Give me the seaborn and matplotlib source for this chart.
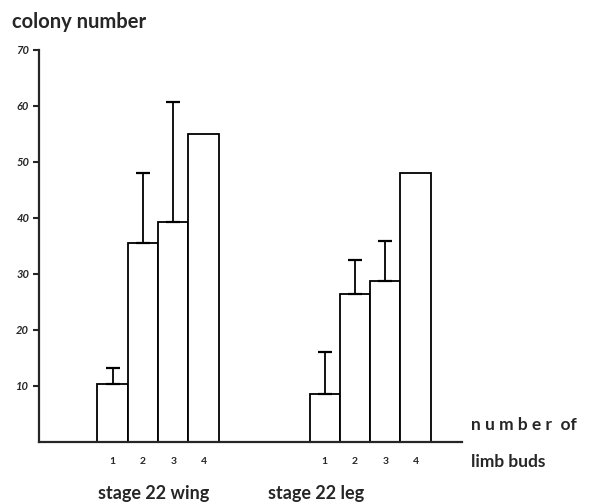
import numpy as np
import pandas as pd
import seaborn as sns
import matplotlib.pyplot as plt

# valeurs
groups = ["stage 22 wing", "stage 22 leg"]
buds = ["1", "2", "3", "4"]
wing_mean = [10.3, 35.6, 39.3, 55.0]
wing_upper = [13.2, 48.0, 60.7, np.nan]
leg_mean = [8.6, 26.4, 28.7, 48.1]
leg_upper = [16.1, 32.5, 35.9, np.nan]
yticks = [10, 20, 30, 40, 50, 60, 70]

group_gap = 7  # decalage entre les deux groupes (en largeurs de barre)
rows = []
for g, (means, uppers) in enumerate([(wing_mean, wing_upper), (leg_mean, leg_upper)]):
    for i, b in enumerate(buds):
        rows.append({"group": groups[g], "buds": b, "pos": g * group_gap + i,
                     "mean": means[i], "upper": uppers[i]})
df = pd.DataFrame(rows)

sns.set_style("ticks")
plt.rcParams['font.family'] = ['Lato', 'DejaVu Sans']

fig = plt.figure(figsize=(5.91, 5.04), dpi=100)
ax = fig.add_axes([39 / 591, 1 - 442 / 504, (462 - 39) / 591, (442 - 50) / 504])

sns.barplot(data=df, x="pos", y="mean", native_scale=True, width=1.0,
            color="white", edgecolor="black", linewidth=1.3, errorbar=None, ax=ax)

# barres d'erreur, seulement vers le haut
err = df.dropna(subset=["upper"])
ax.errorbar(err["pos"], err["upper"], yerr=[err["upper"] - err["mean"], np.zeros(len(err))],
            fmt="none", ecolor="black", elinewidth=1.3, capsize=5, capthick=1.6)

ax.set_xlim(-2.43, 11.53)
ax.set_ylim(0, 70)
ax.set_yticks(yticks)
ax.set_yticklabels([str(t) for t in yticks], fontsize=8, fontweight="bold", style="italic")
ax.set_xticks(df["pos"])
ax.set_xticklabels(df["buds"], fontsize=7.5, fontweight="bold")
ax.tick_params(axis="x", length=0, pad=11)
ax.tick_params(axis="y", length=4, width=1.5, direction="out", pad=3)
sns.despine(ax=ax)
for s in ["left", "bottom"]:
    ax.spines[s].set_linewidth(1.6)
ax.set_xlabel("")
ax.set_ylabel("")

fig.text(12 / 591, 1 - 22 / 504, "colony number", fontsize=14.5, fontweight="bold", va="center")
fig.text(471 / 591, 1 - 425 / 504, "n u m b e r  of", fontsize=12.5, fontweight="bold", va="center")
fig.text(471 / 591, 1 - 462 / 504, "limb buds", fontsize=12.5, fontweight="bold", va="center")
for g, xc in zip(groups, [154, 316]):
    fig.text(xc / 591, 1 - 494 / 504, g, fontsize=13, fontweight="bold", ha="center", va="center")

fig.savefig("out.png", dpi=100)
